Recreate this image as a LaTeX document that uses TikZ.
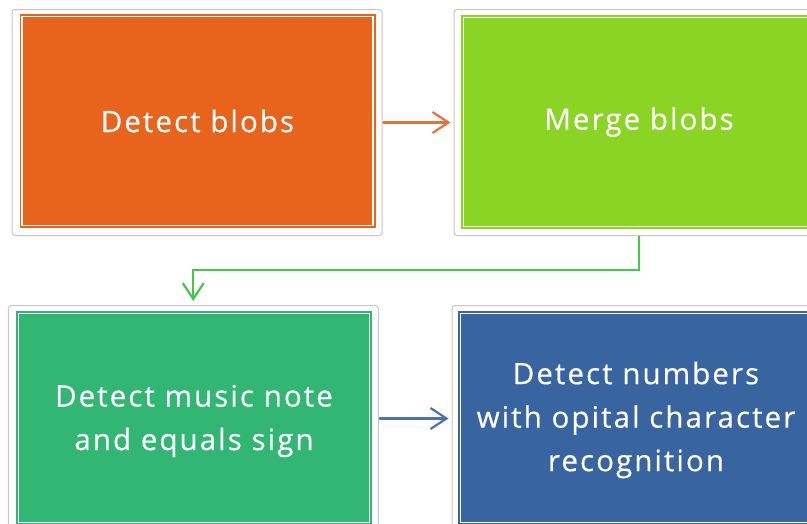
\documentclass[tikz,border=0pt]{standalone}
\usepackage{fontspec}
\setmainfont{Open Sans}[LetterSpace=7, FakeBold=0.4]
\usetikzlibrary{arrows.meta}

\definecolor{framegray}{HTML}{C6C6C6}
\definecolor{blobOrange}{HTML}{E8641D}
\definecolor{blobLime}{HTML}{8AD424}
\definecolor{noteGreen}{HTML}{32B673}
\definecolor{ocrBlue}{HTML}{38649F}
\definecolor{arrOrange}{HTML}{E8703A}
\definecolor{arrGreen}{HTML}{45C845}
\definecolor{arrBlue}{HTML}{4C72AE}

\tikzset{
  frame/.style={draw=framegray, line width=1pt, rounded corners=3pt,
    minimum width=370pt, minimum height=226pt, inner sep=0pt, fill=white},
  panel/.style={fill=#1, draw=#1, line width=2pt, inner sep=0pt,
    minimum width=354pt, minimum height=212pt,
    text=white, align=center, font=\fontsize{29.5}{43.5}\selectfont},
  innerline/.style={draw=white, line width=1.4pt},
  flow/.style={line width=2.2pt, -{Straight Barb[length=16pt,width=21pt,line width=2.2pt]},
    line cap=round},
}

\begin{document}
\begin{tikzpicture}[x=1pt, y=-1pt]
  \useasboundingbox (0,0) rectangle (807,523);

  % outer frames
  \node[frame] (f1) at (197,122.5) {};
  \node[frame] (f2) at (639,122.5) {};
  \node[frame] (f3) at (193.25,418.5) {};
  \node[frame] (f4) at (637,418.5) {};

  % coloured panels
  \node[panel=blobOrange] (b1) at (197.5,121) {Detect blobs};
  \node[panel=blobLime]   (b2) at (639,122)   {Merge blobs};
  \node[panel=noteGreen]  (b3) at (194,418)   {};
  \node[panel=ocrBlue]    (b4) at (636,418)   {};
  \node[panel=noteGreen, fill=none, draw=none] (t3) at (194,421) {Detect music note\\and equals sign};
  \node[panel=ocrBlue, fill=none, draw=none] (t4) at (636,420) {Detect numbers\\with opital character\\recognition};

  % thin white inner rule of each panel
  \foreach \b in {b1,b2,b3,b4}{
    \draw[innerline] ([shift={(2.5,2.5)}]\b.north west) rectangle ([shift={(-2.5,-2.5)}]\b.south east);
  }

  % connectors
  \draw[flow, arrOrange, shorten <=1pt, shorten >=3pt] (f1.east) -- (f2.west);
  \draw[flow, arrBlue, shorten <=1pt, shorten >=3pt] (f3.east) -- (f4.west);
  \coordinate (bendA) at (639,270);
  \coordinate (bendB) at (193.25,270);
  \draw[flow, arrGreen, line cap=butt, shorten >=4pt] (f2.south) -- (bendA) -- (bendB) -- (f3.north);
\end{tikzpicture}
\end{document}
